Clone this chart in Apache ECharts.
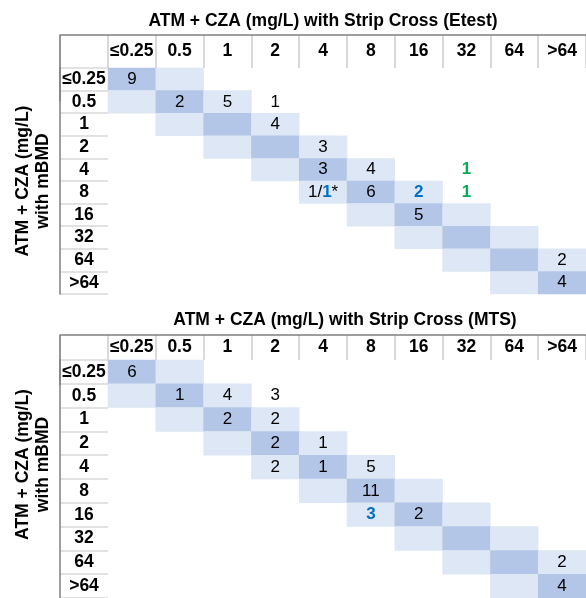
<!DOCTYPE html>
<html>
<head>
<meta charset="utf-8">
<script src="https://cdn.jsdelivr.net/npm/echarts@6/dist/echarts.min.js"></script>
<style>
html,body{margin:0;padding:0;background:#fff;}
#chart{width:586px;height:598px;}
</style>
</head>
<body>
<div id="chart"></div>
<script>
// ---------- data ----------
const micLevels = ['≤0.25', '0.5', '1', '2', '4', '8', '16', '32', '64', '>64'];
const etestTitle = 'ATM + CZA (mg/L) with Strip Cross (Etest)';
const mtsTitle = 'ATM + CZA (mg/L) with Strip Cross (MTS)';
const rowAxisTitle = 'ATM + CZA (mg/L)\nwith mBMD';

// 2 = exact agreement (dark), 1 = within one dilution (light), 0 = none
const agreementShade = [
  [2, 1, 0, 0, 0, 0, 0, 0, 0, 0],
  [1, 2, 1, 0, 0, 0, 0, 0, 0, 0],
  [0, 1, 2, 1, 0, 0, 0, 0, 0, 0],
  [0, 0, 1, 2, 1, 0, 0, 0, 0, 0],
  [0, 0, 0, 1, 2, 1, 0, 0, 0, 0],
  [0, 0, 0, 0, 1, 2, 1, 0, 0, 0],
  [0, 0, 0, 0, 0, 1, 2, 1, 0, 0],
  [0, 0, 0, 0, 0, 0, 1, 2, 1, 0],
  [0, 0, 0, 0, 0, 0, 0, 1, 2, 1],
  [0, 0, 0, 0, 0, 0, 0, 0, 1, 2]
];

// [mBMD row, strip column, count label]
const etestCounts = [
  ['≤0.25', '≤0.25', '9'],
  ['0.5', '0.5', '2'], ['0.5', '1', '5'], ['0.5', '2', '1'],
  ['1', '2', '4'],
  ['2', '4', '3'],
  ['4', '4', '3'], ['4', '8', '4'], ['4', '32', '{green|1}'],
  ['8', '4', '1/{blue|1}*'], ['8', '8', '6'], ['8', '16', '{blue|2}'], ['8', '32', '{green|1}'],
  ['16', '16', '5'],
  ['64', '>64', '2'],
  ['>64', '>64', '4']
];

const mtsCounts = [
  ['≤0.25', '≤0.25', '6'],
  ['0.5', '0.5', '1'], ['0.5', '1', '4'], ['0.5', '2', '3'],
  ['1', '1', '2'], ['1', '2', '2'],
  ['2', '2', '2'], ['2', '4', '1'],
  ['4', '2', '2'], ['4', '4', '1'], ['4', '8', '5'],
  ['8', '8', '11'],
  ['16', '8', '{blue|3}'], ['16', '16', '2'],
  ['64', '>64', '2'],
  ['>64', '>64', '4']
];

// ---------- axis categories ----------
const headerCategories = [''].concat(micLevels);   // first slot = row-label column
const yCategories = micLevels.slice().reverse();

// ---------- styles ----------
const FONT = "'Liberation Sans', Arial, sans-serif";
const shadeColors = ['rgba(255,255,255,0)', '#DDE7F5', '#B4C6E7'];
const borderColor = '#7F7F7F';
const sepColor = '#D9D9D9';

function buildCells(counts) {
  const lookup = {};
  counts.forEach(([r, c, t]) => { lookup[r + '|' + c] = t; });
  const out = [];
  micLevels.forEach((r, ri) => {
    micLevels.forEach((c, ci) => {
      const shade = agreementShade[ri][ci];
      const text = lookup[r + '|' + c];
      if (!shade && text === undefined) return;
      out.push({
        value: [micLevels.indexOf(c), yCategories.indexOf(r), shade],
        itemStyle: { color: shadeColors[shade] },
        label: text === undefined ? { show: false } : { show: true, formatter: text }
      });
    });
  });
  return out;
}

// g0 = header grid, g1 = row-label grid, g2 = cell grid
function tableAxes(g0, headerH, nameGap, namePad) {
  const hidden = (gi, type, data) => ({ gridIndex: gi, type, data, show: false });
  return {
    x: [
      {
        gridIndex: g0, type: 'category', data: headerCategories, position: 'top',
        axisLine: { show: true, onZero: false, lineStyle: { color: borderColor, width: 1.5 } },
        axisTick: { show: false },
        axisLabel: {
          inside: true, interval: 0, margin: headerH / 2, verticalAlign: 'middle',
          fontFamily: FONT, fontSize: 17.5, fontWeight: 'bold', color: '#000'
        },
        splitLine: { show: true, interval: 0, lineStyle: { color: sepColor, width: 2 } }
      },
      { gridIndex: g0 + 1, type: 'value', show: false },
      hidden(g0 + 2, 'category', micLevels)
    ],
    y: [
      { gridIndex: g0, type: 'value', show: false },
      {
        gridIndex: g0 + 1, type: 'category', data: yCategories, position: 'left',
        axisLine: {
          show: true, onZero: false,
          symbol: ['none', 'rect'], symbolSize: [1.5, headerH * 2], symbolOffset: [0, 0],
          lineStyle: { color: borderColor, width: 1.5 }
        },
        axisTick: { show: false },
        axisLabel: {
          inside: true, interval: 0, margin: 24, align: 'center',
          fontFamily: FONT, fontSize: 17.5, fontWeight: 'bold', color: '#000'
        },
        splitLine: { show: true, interval: 0, lineStyle: { color: sepColor, width: 1.5 } },
        name: rowAxisTitle, nameLocation: 'middle', nameRotate: 90, nameGap: nameGap,
        nameTextStyle: {
          fontFamily: FONT, fontSize: 17.5, fontWeight: 'bold', color: '#000',
          lineHeight: 20, padding: namePad
        }
      },
      hidden(g0 + 2, 'category', yCategories)
    ]
  };
}

function heatSeries(axisIndex, counts) {
  return {
    type: 'heatmap', xAxisIndex: axisIndex, yAxisIndex: axisIndex,
    data: buildCells(counts),
    itemStyle: { borderWidth: 0 },
    label: {
      fontFamily: FONT, fontSize: 17, color: '#000',
      rich: {
        blue: { fontFamily: FONT, fontSize: 17, fontWeight: 'bold', color: '#0070C0' },
        green: { fontFamily: FONT, fontSize: 17, fontWeight: 'bold', color: '#00B050' }
      }
    },
    emphasis: { disabled: true },
    silent: true
  };
}

const topAxes = tableAxes(0, 33, 7, [0, 0, 0, 0]);
const bottomAxes = tableAxes(3, 25, 7, [0, 0, 0, 29]);

const option = {
  animation: false,
  title: [
    { text: etestTitle, left: 323, top: 21.5, textAlign: 'center', textVerticalAlign: 'middle', padding: 0,
      textStyle: { fontFamily: FONT, fontSize: 17.5, fontWeight: 'bold', color: '#000' } },
    { text: mtsTitle, left: 345, top: 320.5, textAlign: 'center', textVerticalAlign: 'middle', padding: 0,
      textStyle: { fontFamily: FONT, fontSize: 17.5, fontWeight: 'bold', color: '#000' } }
  ],
  grid: [
    // top table: header, row labels, cells
    { left: 60, top: 35, width: 528, height: 33 },
    { left: 60, top: 68, width: 48, height: 226 },
    { left: 108, top: 68, width: 480, height: 226 },
    // bottom table
    { left: 60, top: 335, width: 528, height: 25 },
    { left: 60, top: 360, width: 48, height: 240 },
    { left: 108, top: 360, width: 480, height: 240 }
  ],
  xAxis: topAxes.x.concat(bottomAxes.x),
  yAxis: topAxes.y.concat(bottomAxes.y),
  series: [heatSeries(2, etestCounts), heatSeries(5, mtsCounts)]
};

const chart = echarts.init(document.getElementById('chart'));
chart.setOption(option);
</script>
</body>
</html>
